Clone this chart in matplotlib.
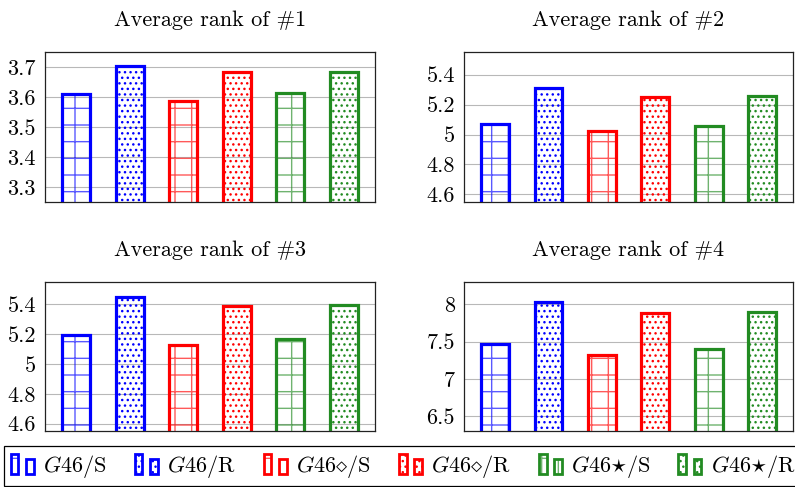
import matplotlib
matplotlib.use("Agg")
import matplotlib.pyplot as plt
from matplotlib.patches import Rectangle
from matplotlib.legend_handler import HandlerBase
from matplotlib.ticker import FuncFormatter, MultipleLocator
from matplotlib.colors import to_rgba

plt.rcParams['font.family'] = 'serif'
plt.rcParams['font.serif'] = ['cmr10', 'DejaVu Serif']
plt.rcParams['mathtext.fontset'] = 'cm'
plt.rcParams['axes.formatter.use_mathtext'] = True
plt.rcParams['hatch.linewidth'] = 1.0

# ---- data ----
series = [r'$G46/\mathrm{S}$', r'$G46/\mathrm{R}$', r'$G46{\diamond}/\mathrm{S}$',
          r'$G46{\diamond}/\mathrm{R}$', r'$G46{\star}/\mathrm{S}$', r'$G46{\star}/\mathrm{R}$']
titles = ['Average rank of #1', 'Average rank of #2', 'Average rank of #3', 'Average rank of #4']
rank1 = [3.610, 3.702, 3.588, 3.683, 3.612, 3.684]
rank2 = [5.072, 5.311, 5.022, 5.252, 5.060, 5.255]
rank3 = [5.193, 5.449, 5.126, 5.389, 5.166, 5.397]
rank4 = [7.474, 8.030, 7.316, 7.888, 7.402, 7.896]
ylims = [(3.25, 3.75), (4.55, 5.55), (4.55, 5.55), (6.3, 8.3)]
ysteps = [0.1, 0.2, 0.2, 0.5]

colors = ['#0000ff', '#0000ff', '#ff0000', '#ff0000', '#228b22', '#228b22']
hatches = ['+', '...', '+', '...', '+', '...']

W, H = 795, 487
fig = plt.figure(figsize=(W / 100, H / 100), dpi=100)

positions = [(45, 52, 375, 202), (464, 52, 793, 202), (45, 282, 375, 431), (464, 282, 793, 431)]
data = [rank1, rank2, rank3, rank4]

fmt = FuncFormatter(lambda v, p: '%g' % round(v, 3))

for (l, t, r, b), vals, title, yl, st in zip(positions, data, titles, ylims, ysteps):
    ax = fig.add_axes([l / W, 1 - b / H, (r - l) / W, (b - t) / H])
    x = list(range(len(vals)))
    for i in x:
        hc = to_rgba(colors[i], 0.65 if hatches[i] == '+' else 1.0)
        ax.bar(i, vals[i], width=0.52, bottom=0, facecolor='none', edgecolor=hc,
               hatch=hatches[i], linewidth=0, zorder=2)
        ax.bar(i, vals[i], width=0.52, bottom=0, fill=False, edgecolor=colors[i],
               linewidth=2.3, zorder=3)
    ax.set_xlim(-0.58, 5.58)
    ax.set_ylim(*yl)
    ax.yaxis.set_major_locator(MultipleLocator(st))
    ax.yaxis.set_major_formatter(fmt)
    ax.set_xticks([])
    ax.tick_params(axis='y', length=0, pad=6.5, labelsize=16)
    ax.grid(axis='y', color='#b8b8b8', linewidth=0.8, zorder=1)
    ax.set_axisbelow(True)
    for s in ax.spines.values():
        s.set_color('#222222')
        s.set_linewidth(0.9)
        s.set_zorder(4)
    ax.set_title(title, fontsize=16, pad=19)


class TwoBars(HandlerBase):
    def create_artists(self, legend, orig_handle, xdescent, ydescent, width, height, fontsize, trans):
        c, h = orig_handle
        w = width * 0.32
        arts = []
        for x0, hh in ((0.0, 1.0), (width * 0.62, 0.78)):
            hc = to_rgba(c, 0.65 if h == '+' else 1.0)
            r1 = Rectangle((-xdescent + x0, -ydescent), w, height * hh, facecolor='none',
                           edgecolor=hc, hatch=h, linewidth=0, transform=trans)
            r2 = Rectangle((-xdescent + x0, -ydescent), w, height * hh, fill=False,
                           edgecolor=c, linewidth=2.0, transform=trans)
            arts += [r1, r2]
        return arts


handles = list(zip(colors, hatches))
leg = fig.legend(handles, series, handler_map={tuple: TwoBars()},
                 loc='upper left', bbox_to_anchor=(4 / W, 1 - 446 / H),
                 ncol=6, fontsize=16, frameon=True, fancybox=False,
                 edgecolor='black', framealpha=1, borderaxespad=0,
                 handlelength=1.1, handleheight=0.95, handletextpad=0.35,
                 columnspacing=1.25, borderpad=0.3)
leg.get_frame().set_linewidth(0.9)

fig.savefig('out.png', dpi=100)
